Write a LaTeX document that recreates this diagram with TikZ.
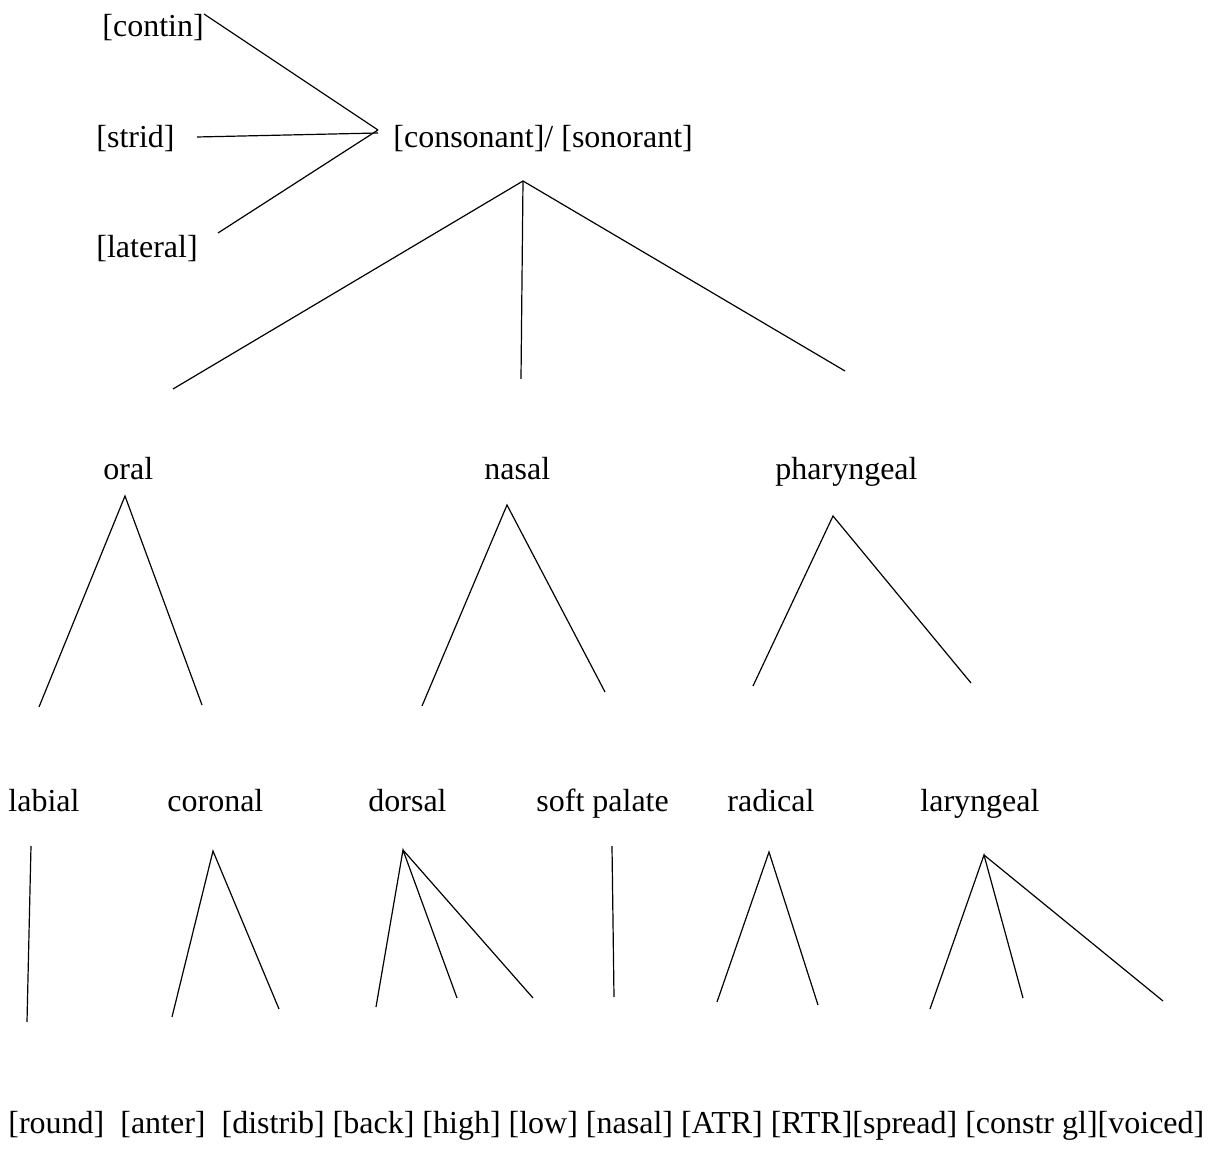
\documentclass[tikz,border=0pt]{standalone}
\usepackage{fontspec}
\setmainfont{Liberation Serif}
\begin{document}
\begin{tikzpicture}[x=0.5pt,y=-0.5pt,
  lbl/.style={anchor=base west,inner sep=0pt,font=\fontsize{16}{19}\selectfont},
  edge/.style={draw=black,line width=0.6pt}]
\useasboundingbox (0,0) rectangle (1217,1154);
% labels
\node[lbl] (contin) at (102,37) {[contin]};
\node[lbl] (strid) at (96,148) {[strid]};
\node[lbl] (lateral) at (96,258) {[lateral]};
\node[lbl] (cons) at (393,148) {[consonant]/ [sonorant]};
\node[lbl] (oral) at (103,480) {oral};
\node[lbl] (nasal) at (484,480) {nasal};
\node[lbl] (phar) at (775,480) {pharyngeal};
\node[lbl] (labial) at (8,812) {labial};
\node[lbl] (coronal) at (167,812) {coronal};
\node[lbl] (dorsal) at (368,812) {dorsal};
\node[lbl] (soft) at (536,812) {soft palate};
\node[lbl] (radical) at (727,812) {radical};
\node[lbl] (laryn) at (920,812) {laryngeal};
\node[lbl] (feat) at (8,1133) {[round]\ \ [anter]\ \ [distrib] [back] [high] [low] [nasal] [ATR] [RTR][spread] [constr gl][voiced]};
% top fan
\coordinate (cA) at (378,130);
\coordinate (contE) at (204,14);
\coordinate (stridE) at (197,137);
\coordinate (latE) at (218,233);
\draw[edge] (contE) -- (cA);
\draw[edge] (stridE) -- (378,133);
\draw[edge] (latE) -- (cA);
% consonant apex
\coordinate (cApex) at (523,181);
\coordinate (oralE) at (173,389);
\coordinate (nasalE) at (521,379);
\coordinate (pharE) at (845,371);
\draw[edge] (cApex) -- (oralE);
\draw[edge] (cApex) -- (nasalE);
\draw[edge] (cApex) -- (pharE);
% oral
\coordinate (oApex) at (125,496);
\coordinate (oL) at (39,707);
\coordinate (oR) at (202,705);
\draw[edge] (oL) -- (oApex) -- (oR);
% nasal
\coordinate (nApex) at (507,505);
\coordinate (nL) at (422,706);
\coordinate (nR) at (605,692);
\draw[edge] (nL) -- (nApex) -- (nR);
% pharyngeal
\coordinate (pApex) at (833,516);
\coordinate (pL) at (753,686);
\coordinate (pR) at (971,683);
\draw[edge] (pL) -- (pApex) -- (pR);
% labial
\coordinate (labT) at (31,846);
\coordinate (labB) at (27,1022);
\draw[edge] (labT) -- (labB);
% coronal
\coordinate (corA) at (213,851);
\coordinate (corL) at (172,1017);
\coordinate (corR) at (279,1009);
\draw[edge] (corL) -- (corA) -- (corR);
% dorsal
\coordinate (dorA) at (403,850);
\coordinate (dorL) at (376,1007);
\coordinate (dorM) at (457,998);
\coordinate (dorR) at (533,998);
\draw[edge] (dorL) -- (dorA) -- (dorM);
\draw[edge] (dorA) -- (dorR);
% soft palate
\coordinate (spT) at (612,846);
\coordinate (spB) at (614,997);
\draw[edge] (spT) -- (spB);
% radical
\coordinate (radA) at (769,852);
\coordinate (radL) at (717,1002);
\coordinate (radR) at (818,1005);
\draw[edge] (radL) -- (radA) -- (radR);
% laryngeal
\coordinate (larA) at (984,855);
\coordinate (larL) at (930,1009);
\coordinate (larM) at (1023,998);
\coordinate (larR) at (1163,1001);
\draw[edge] (larL) -- (larA) -- (larM);
\draw[edge] (larA) -- (larR);
\end{tikzpicture}
\end{document}
